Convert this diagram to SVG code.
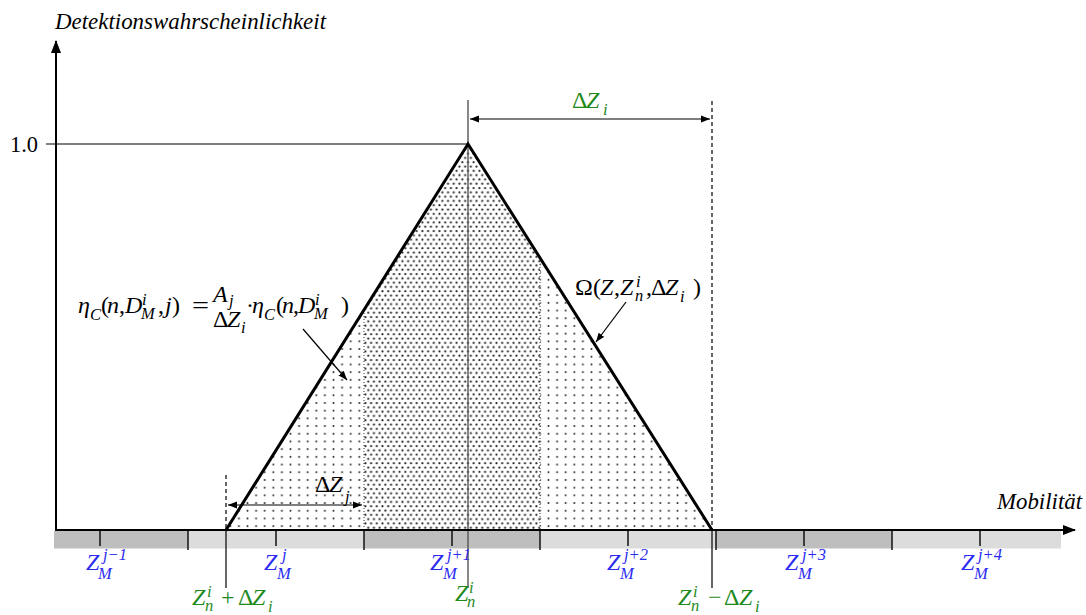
<svg xmlns="http://www.w3.org/2000/svg" width="1086" height="615" viewBox="0 0 1086 615" font-family="'Liberation Serif','Times New Roman',serif">
<style>
text{font-family:"Liberation Serif","Times New Roman",serif;font-size:23px;fill:#000}
.m{font-size:24px}
.it{font-style:italic}
.s{font-size:16.5px}
.g{fill:#1e8a1e}
.b{fill:#2b2bf0}
.ax{stroke:#000;stroke-width:2;fill:none}
.thin{stroke:#000;stroke-width:1.2;fill:none}
.gray{stroke:#555;stroke-width:1.4;fill:none}
.dash{stroke:#000;stroke-width:1.2;stroke-dasharray:4,3;fill:none}
.dot{stroke:#333;stroke-width:1;stroke-dasharray:1,2;fill:none}
.tick{stroke:#111;stroke-width:1.5}
.dk{fill:#bebebe}
.lt{fill:#dcdcdc}
</style>
<defs>
<marker id="axh" markerUnits="userSpaceOnUse" markerWidth="14" markerHeight="10" refX="12" refY="5" orient="auto"><path d="M0,0 L13,5 L0,10 Z" fill="#000"/></marker>
<marker id="ah" markerUnits="userSpaceOnUse" markerWidth="10" markerHeight="8" refX="9" refY="4" orient="auto-start-reverse"><path d="M0,0.5 L9,4 L0,7.5 Z" fill="#000"/></marker>
<pattern id="sparse" width="8.6" height="7.7" patternUnits="userSpaceOnUse" x="226" y="530"><circle cx="4.3" cy="3.8" r="1" fill="#2a2a2a"/></pattern>
<pattern id="dense" width="5.7" height="8.6" patternUnits="userSpaceOnUse" x="364" y="530"><circle cx="1.4" cy="2.1" r="1.1" fill="#222"/><circle cx="4.25" cy="6.4" r="1.1" fill="#222"/></pattern>
</defs>

<g id="bar">
<rect class="dk" x="54" y="531" width="134" height="17.5"/>
<rect class="lt" x="188" y="531" width="176" height="17.5"/>
<rect class="dk" x="364" y="531" width="176" height="17.5"/>
<rect class="lt" x="540" y="531" width="176" height="17.5"/>
<rect class="dk" x="716" y="531" width="176" height="17.5"/>
<rect class="lt" x="892" y="531" width="169" height="17.5"/>
<g class="tick">
<line x1="188" y1="530" x2="188" y2="550"/>
<line x1="364" y1="530" x2="364" y2="550"/>
<line x1="540" y1="530" x2="540" y2="550"/>
<line x1="716" y1="530" x2="716" y2="550"/>
<line x1="892" y1="530" x2="892" y2="550"/>
<line x1="100" y1="530" x2="100" y2="546"/>
<line x1="276" y1="530" x2="276" y2="546"/>
<line x1="452" y1="530" x2="452" y2="546"/>
<line x1="628" y1="530" x2="628" y2="546"/>
<line x1="804" y1="530" x2="804" y2="546"/>
<line x1="980" y1="530" x2="980" y2="546"/>
</g>
</g>

<g id="fill">
<polygon points="226,530 364,309.9 364,530" fill="url(#sparse)"/>
<polygon points="364,530 364,309.9 468,144 540,257.9 540,530" fill="url(#dense)"/>
<polygon points="540,530 540,257.9 712,530" fill="url(#sparse)"/>
<line class="dot" x1="364" y1="310" x2="364" y2="530"/>
<line class="dot" x1="540" y1="258" x2="540" y2="530"/>
</g>

<g id="guides">
<line class="gray" x1="46" y1="144" x2="468" y2="144"/>
<line class="gray" x1="468" y1="100" x2="468" y2="588"/>
<line class="dash" x1="226" y1="475" x2="226" y2="530"/>
<line class="thin" x1="226" y1="530" x2="226" y2="588"/>
<line class="dash" x1="712" y1="101" x2="712" y2="530"/>
<line class="thin" x1="712" y1="530" x2="712" y2="588"/>
</g>

<g id="triangle">
<polyline points="226,530 468,144 712,530" fill="none" stroke="#000" stroke-width="3" stroke-linejoin="miter"/>
</g>

<g id="axes">
<line class="ax" x1="56" y1="531" x2="56" y2="41" marker-end="url(#axh)"/>
<line class="ax" x1="55" y1="530" x2="1075" y2="530" marker-end="url(#axh)"/>
<text class="it" x="55" y="29" textLength="271" lengthAdjust="spacingAndGlyphs">Detektionswahrscheinlichkeit</text>
<text class="it" x="997" y="509" textLength="85" lengthAdjust="spacingAndGlyphs">Mobilität</text>
<text x="10" y="152" textLength="28" lengthAdjust="spacingAndGlyphs">1.0</text>
</g>

<g id="connectors">
<line class="thin" x1="470" y1="119" x2="710" y2="119" marker-start="url(#ah)" marker-end="url(#ah)"/>
<line class="thin" x1="228" y1="505" x2="362" y2="505" marker-start="url(#ah)" marker-end="url(#ah)"/>
<line class="thin" x1="303" y1="329" x2="347" y2="380" marker-end="url(#ah)"/>
<line class="thin" x1="626" y1="302" x2="596" y2="342" marker-end="url(#ah)"/>
</g>

<g id="label-dZi">
<text class="g m" x="572" y="108">Δ</text><text class="g m it" x="586" y="108">Z</text>
<text class="g it s" x="603" y="115">i</text>
</g>

<g id="label-dZj">
<text class="m" x="315" y="492">Δ</text><text class="m it" x="329" y="492">Z</text>
<text class="it s" x="345" y="502">j</text>
</g>

<g id="label-omega">
<text class="m" x="575" y="295">Ω</text>
<text class="m" x="593" y="295">(</text>
<text class="m it" x="600" y="295">Z</text>
<text class="m" x="614" y="295">,</text>
<text class="m it" x="620" y="295">Z</text>
<text class="it s" x="636" y="287">i</text>
<text class="it s" x="635" y="301">n</text>
<text class="m" x="646" y="295">,</text>
<text class="m" x="651" y="295">Δ</text>
<text class="m it" x="665" y="295">Z</text>
<text class="it s" x="680" y="302">i</text>
<text class="m" x="693" y="295">)</text>
</g>

<g id="label-formula">
<text class="m it" x="78" y="313">η</text>
<text class="it s" x="90" y="320">C</text>
<text class="m" x="101" y="313">(</text>
<text class="m it" x="107" y="313">n</text>
<text class="m" x="119" y="313">,</text>
<text class="m it" x="125" y="313">D</text>
<text class="it s" x="142" y="305">i</text>
<text class="it s" x="141" y="319">M</text>
<text class="m" x="158" y="313">,</text>
<text class="m it" x="165" y="313">j</text>
<text class="m" x="172" y="313">)</text>
<text class="m" x="192" y="313" textLength="17" lengthAdjust="spacingAndGlyphs">=</text>
<text class="m it" x="213" y="302">A</text>
<text class="it s" x="229" y="306">j</text>
<text class="m" x="213" y="327">Δ</text><text class="m it" x="227" y="327">Z</text>
<text class="it s" x="241" y="333">i</text>
<text class="m" x="246" y="313">·</text>
<text class="m it" x="252" y="313">η</text>
<text class="it s" x="264" y="320">C</text>
<text class="m" x="276" y="313">(</text>
<text class="m it" x="282" y="313">n</text>
<text class="m" x="293" y="313">,</text>
<text class="m it" x="298" y="313">D</text>
<text class="it s" x="315" y="305">i</text>
<text class="it s" x="314" y="319">M</text>
<text class="m" x="341" y="313">)</text>
</g>

<g id="labels-bins">
<text class="b m it" x="86" y="570">Z</text><text class="b it s" x="103" y="560">j−1</text><text class="b it s" x="98" y="579">M</text>
<text class="b m it" x="264" y="570">Z</text><text class="b it s" x="282" y="560">j</text><text class="b it s" x="277" y="579">M</text>
<text class="b m it" x="430" y="570">Z</text><text class="b it s" x="447" y="560">j+1</text><text class="b it s" x="443" y="579">M</text>
<text class="b m it" x="607" y="570">Z</text><text class="b it s" x="624" y="560">j+2</text><text class="b it s" x="620" y="579">M</text>
<text class="b m it" x="785" y="570">Z</text><text class="b it s" x="802" y="560">j+3</text><text class="b it s" x="798" y="579">M</text>
<text class="b m it" x="961" y="570">Z</text><text class="b it s" x="978" y="560">j+4</text><text class="b it s" x="974" y="579">M</text>
</g>

<g id="labels-z">
<text class="g m it" x="192" y="605">Z</text><text class="g it s" x="207" y="597">i</text><text class="g it s" x="205" y="611">n</text>
<text class="g m" x="221" y="605">+</text><text class="g m" x="238" y="605">Δ</text><text class="g m it" x="252" y="605">Z</text><text class="g it s" x="268" y="612">i</text>
<text class="g m it" x="455" y="601">Z</text><text class="g it s" x="469" y="593">i</text><text class="g it s" x="467" y="607">n</text>
<text class="g m it" x="678" y="605">Z</text><text class="g it s" x="693" y="597">i</text><text class="g it s" x="691" y="611">n</text>
<text class="g m" x="708" y="605">−</text><text class="g m" x="724" y="605">Δ</text><text class="g m it" x="739" y="605">Z</text><text class="g it s" x="755" y="612">i</text>
</g>
</svg>
